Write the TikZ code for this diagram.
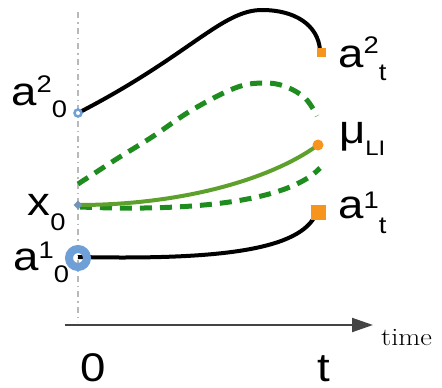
\documentclass[tikz,border=0pt]{standalone}
\usepackage{fontspec}
\setsansfont{Liberation Sans}
\usepackage{graphicx}
\usetikzlibrary{arrows.meta,shapes.geometric}
\definecolor{ablue}{HTML}{6E9FD6}
\definecolor{dblue}{HTML}{7094BA}
\definecolor{aorange}{HTML}{F7941D}
\definecolor{dgreen}{HTML}{1E8C1E}
\definecolor{lgreen}{HTML}{5DA02C}
\definecolor{axisgray}{HTML}{444444}
\newcommand{\lbl}[5]{\scalebox{1.14}[1]{\sffamily\fontsize{40}{40}\selectfont #1\raisebox{#2}{\fontsize{24}{24}\selectfont #3}\raisebox{#4}{\fontsize{24}{24}\selectfont #5}}}
\tikzset{
  lab/.style={anchor=base west,inner sep=0pt,outer sep=0pt},
  blk/.style={draw=black,line width=4pt},
  dgr/.style={draw=dgreen,line width=5pt,dash pattern=on 12pt off 8pt},
  lgr/.style={draw=lgreen,line width=4pt},
  osq/.style={fill=aorange,inner sep=0pt,minimum size=#1,rectangle},
}
\begin{document}
\begin{tikzpicture}[x=1pt,y=-1pt]
\useasboundingbox (0,0) rectangle (442,388);
% vertical guide
\coordinate (vtop) at (78,12);
\coordinate (vbot) at (78,322);
\draw[gray!55,line width=1.2pt,dash pattern=on 6pt off 4pt on 1.5pt off 4pt] (vtop) -- (vbot);
% time axis
\coordinate (ax0) at (65,325);
\coordinate (ax1) at (373,325);
\draw[axisgray,line width=2pt,-{Triangle[length=21pt,width=14pt]}] (ax0) -- (ax1);
\node[anchor=base west,inner sep=0pt] (time) at (381,345) {\scalebox{1.14}[1]{\fontsize{25}{25}\selectfont time}};
% endpoints
\coordinate (s2) at (80,112);
\coordinate (e2) at (320,50);
\coordinate (sx) at (78,205);
\coordinate (mu) at (318,145);
\coordinate (s1) at (78,257);
\coordinate (e1) at (316,214);
% upper black curve
\draw[blk] (s2) .. controls (190,55) and (222,10) .. (262,10)
  .. controls (295,10) and (318,25) .. (e2);
% upper dashed green
\draw[dgr] plot[smooth,tension=0.6] coordinates {(78,184) (115,160) (152,137) (192,110) (235,88) (262,83) (284,86) (305,98) (317,116)};
% lower dashed green
\draw[dgr] (80,207) .. controls (200,212) and (290,200) .. (320,168);
% solid green
\draw[lgr] (sx) .. controls (180,205) and (270,180) .. (mu);
% lower black curve
\draw[blk] (s1) .. controls (220,260) and (300,250) .. (e1);
% markers
\draw[ablue,line width=2.5pt] (78,113) circle (3.5);
\draw[ablue,line width=8pt] (78,258) circle (9);
\node[diamond,fill=dblue,inner sep=0pt,minimum width=9pt,minimum height=9pt] (dx) at (sx) {};
\node[osq=9pt] (sq2) at (321,52) {};
\node[osq=15pt] (sq1) at (318,212) {};
\node[circle,fill=aorange,inner sep=0pt,minimum size=11pt] (dmu) at (mu) {};
% labels
\node[lab] (la20) at (11.3,105) {\lbl{a}{13pt}{2}{-12pt}{0}};
\node[lab] (lx0) at (27.5,215) {\lbl{x}{0pt}{}{-15pt}{0}};
\node[lab] (la10) at (13.3,270) {\lbl{a}{12pt}{1}{-12pt}{0}};
\node[lab] (la2t) at (338.3,67) {\lbl{a}{14pt}{2}{-13pt}{t}};
\node[lab] (lmu) at (339,143) {\scalebox{1.14}[1]{\sffamily\fontsize{40}{40}\selectfont μ\raisebox{-12pt}{\fontsize{21}{21}\selectfont LI}}};
\node[lab] (la1t) at (338.3,218) {\lbl{a}{10pt}{1}{-15pt}{t}};
\node[lab] (l0) at (80,381) {\scalebox{1.14}[1]{\sffamily\fontsize{40}{40}\selectfont 0}};
\node[lab] (lt) at (317,381) {\scalebox{1.14}[1]{\sffamily\fontsize{40}{40}\selectfont t}};
\end{tikzpicture}
\end{document}
